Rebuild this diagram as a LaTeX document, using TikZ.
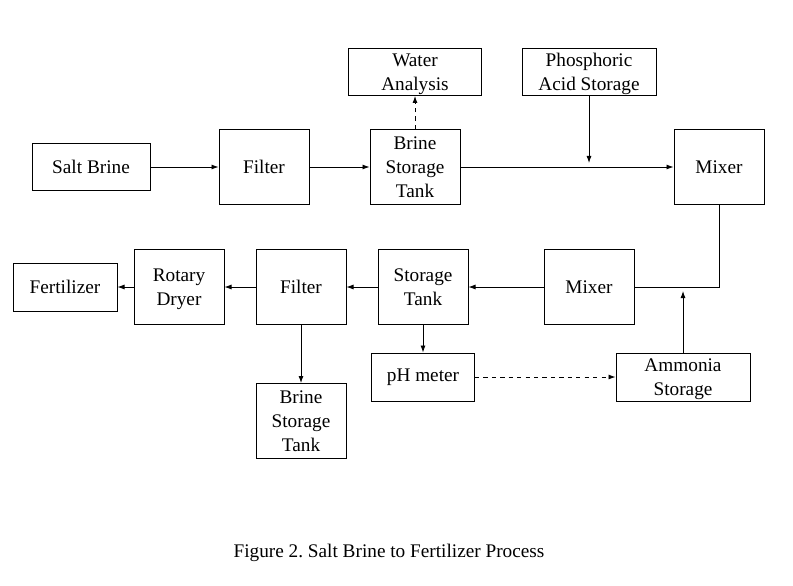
\documentclass[tikz,border=0pt]{standalone}
\usepackage{fontspec}
\setmainfont{Liberation Serif}
\usetikzlibrary{arrows.meta}
\frenchspacing

\tikzset{
	box/.style={draw, line width=0.65pt, align=center, inner sep=1pt,
		font=\fontsize{13.7}{16.8}\selectfont},
	bigbox/.style={box, minimum width=2.25cm, minimum height=1.875cm},
	flat/.style={box, minimum height=1.175cm},
	drop/.style={text depth=-2pt},
	flow/.style={line width=0.65pt, -{Latex[length=5pt,width=3.6pt]}},
}

\begin{document}
\begin{tikzpicture}[x=0.025cm, y=-0.025cm]
		\useasboundingbox (0,0) rectangle (793,585);
		% top row
		\node [flat, minimum width=2.95cm] (salt) at (91,167) {Salt Brine};
		\node [bigbox] (filt1) at (264,167) {Filter};
		\node [bigbox, drop] (tank1) at (415,167) {Brine\\Storage\\Tank};
		\node [flat, drop, minimum width=3.325cm] (water) at (415,72) {Water\\Analysis};
		\node [flat, drop, minimum width=3.35cm] (acid) at (589,72) {Phosphoric\\Acid Storage};
		\node [bigbox] (mix1) at (719,167) {Mixer};
		% bottom row
		\node [bigbox] (mix2) at (589,287) {Mixer};
		\node [bigbox, drop] (tank2) at (423,287) {Storage\\Tank};
		\node [bigbox] (filt2) at (301,287) {Filter};
		\node [bigbox, drop] (dryer) at (179,287) {Rotary\\Dryer};
		\node [flat, minimum width=2.6cm, minimum height=1.2cm] (fert) at (65,287) {Fertilizer};
		\node [flat, minimum width=2.575cm, minimum height=1.2cm] (ph) at (423,377) {pH meter};
		\node [flat, drop, minimum width=3.35cm, minimum height=1.2cm] (nh3) at (683,377) {Ammonia\\Storage};
		\node [bigbox, drop] (tank3) at (301,421) {Brine\\Storage\\Tank};
		\coordinate (acidin) at (589,163);
		\coordinate (nh3in) at (683,291);

		\draw [flow] (salt) -- (filt1);
		\draw [flow] (filt1) -- (tank1);
		\draw [flow] (tank1) -- (mix1);
		\draw [flow, dashed] (tank1) -- (water);
		\draw [flow] (acid) -- (acidin);
		\draw [line width=0.65pt] (mix1.south) |- (mix2.east);
		\draw [flow] (nh3) -- (nh3in);
		\draw [flow] (mix2) -- (tank2);
		\draw [flow] (tank2) -- (filt2);
		\draw [flow] (filt2) -- (dryer);
		\draw [flow] (dryer) -- (fert);
		\draw [flow] (filt2) -- (tank3);
		\draw [flow] (tank2) -- (ph);
		\draw [flow, dashed] (ph) -- (nh3);

		\node [font=\fontsize{13.7}{16.8}\selectfont] (cap) at (389,553) {Figure 2. Salt Brine to Fertilizer Process};
	\end{tikzpicture}
\end{document}
